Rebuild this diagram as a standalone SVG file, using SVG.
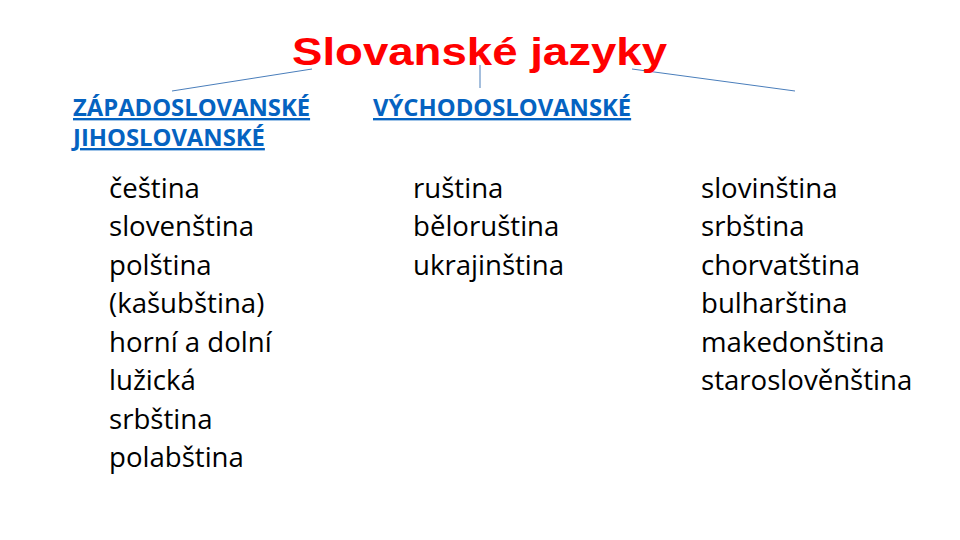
<svg xmlns="http://www.w3.org/2000/svg" width="960" height="540" viewBox="0 0 960 540">
<style>
.title{font-family:"Liberation Sans",Arial,sans-serif;font-weight:bold;font-size:39px;fill:#FF0000}
.hdr{font-family:"Open Sans","Noto Sans",sans-serif;font-weight:bold;font-size:23.8px;fill:#0563C1;text-decoration:underline}
.item{font-family:"Open Sans","Noto Sans",sans-serif;font-size:27.6px;fill:#000}
.ln{stroke:#4A7EBB;stroke-width:1;fill:none}
</style>
<rect width="960" height="540" fill="#fff"/>
<g id="connectors">
<line class="ln" x1="312" y1="69" x2="172" y2="91"/>
<line class="ln" x1="480" y1="65" x2="480" y2="88"/>
<line class="ln" x1="632" y1="69" x2="795" y2="91"/>
</g>
<g id="title"><text class="title" x="292" y="65" textLength="375" lengthAdjust="spacingAndGlyphs">Slovanské jazyky</text></g>
<g id="west">
<text class="hdr" x="73" y="116">ZÁPADOSLOVANSKÉ</text>
<text class="hdr" x="73" y="146">JIHOSLOVANSKÉ</text>
<text class="item" x="109" y="197.5">čeština</text>
<text class="item" x="109" y="236">slovenština</text>
<text class="item" x="109" y="274.5">polština</text>
<text class="item" x="109" y="313">(kašubština)</text>
<text class="item" x="109" y="351.5">horní a dolní</text>
<text class="item" x="109" y="390">lužická</text>
<text class="item" x="109" y="428.5">srbština</text>
<text class="item" x="109" y="467">polabština</text>
</g>
<g id="east">
<text class="hdr" x="373" y="116">VÝCHODOSLOVANSKÉ</text>
<text class="item" x="413" y="197.5">ruština</text>
<text class="item" x="413" y="236">běloruština</text>
<text class="item" x="413" y="274.5">ukrajinština</text>
</g>
<g id="south">
<text class="item" x="701" y="197.5">slovinština</text>
<text class="item" x="701" y="236">srbština</text>
<text class="item" x="701" y="274.5">chorvatština</text>
<text class="item" x="701" y="313">bulharština</text>
<text class="item" x="701" y="351.5">makedonština</text>
<text class="item" x="701" y="390">staroslověnština</text>
</g>
</svg>
